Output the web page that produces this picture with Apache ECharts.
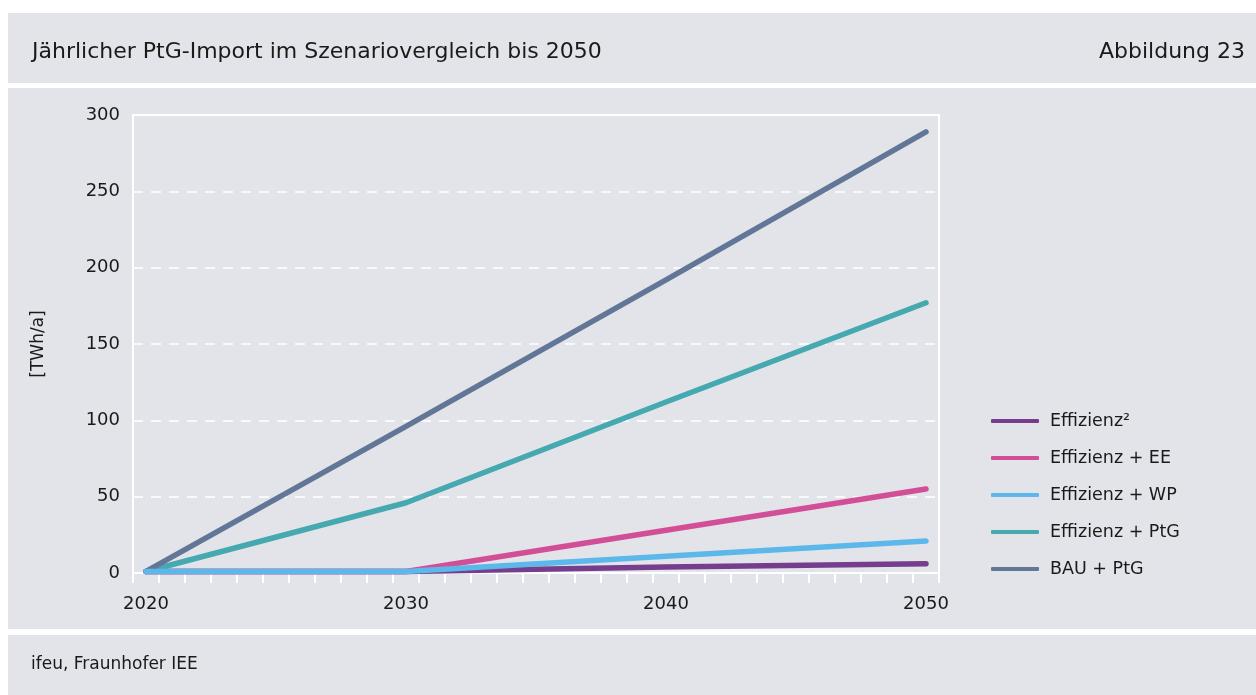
<!DOCTYPE html>
<html>
<head>
<meta charset="utf-8">
<script src="https://cdn.jsdelivr.net/npm/echarts@6/dist/echarts.min.js"></script>
<style>
  html, body { margin: 0; padding: 0; background: #fff; }
  #chart { width: 1256px; height: 695px; }
</style>
</head>
<body>
<div id="chart"></div>
<script>
// years on the category axis, values only at the decades
const years = [];
for (let y = 2020; y <= 2050; y++) years.push(String(y));
const decades = ['2020', '2030', '2040', '2050'];
const yTicks = [0, 50, 100, 150, 200, 250, 300];

const effizienz2 = [1, 1, 4, 6];
const effizienzEE = [1, 1, 28, 55];
const effizienzWP = [1, 1, 11, 21];
const effizienzPtG = [1, 46, 112, 177];
const bauPtG = [1, 96, 192, 289];

const names = ['Effizienz²', 'Effizienz + EE', 'Effizienz + WP', 'Effizienz + PtG', 'BAU + PtG'];
const colors = ['#763d8c', '#d24f97', '#5cb8ea', '#46a9b0', '#627797'];

const PANEL = '#e3e4e9';
const FONT = 'DejaVu Sans';
const INK = '#1a1a1a';

const pairs = (vals) => decades.map((d, i) => [d, vals[i]]);

function lineSeries(name, vals, color) {
  return {
    name: name,
    type: 'line',
    data: pairs(vals),
    showSymbol: false,
    symbol: 'none',
    color: color,
    lineStyle: { width: 5.5, cap: 'round', join: 'round', color: color },
    emphasis: { disabled: true },
    z: 3
  };
}

const chart = echarts.init(document.getElementById('chart'));

const option = {
  backgroundColor: '#ffffff',
  animation: false,
  textStyle: { fontFamily: FONT },
  graphic: [
    { type: 'rect', shape: { x: 8, y: 13, width: 1248, height: 70 }, style: { fill: PANEL }, z: -10 },
    { type: 'rect', shape: { x: 8, y: 88, width: 1248, height: 541 }, style: { fill: PANEL }, z: -10 },
    { type: 'rect', shape: { x: 8, y: 635, width: 1248, height: 60 }, style: { fill: PANEL }, z: -10 },
    {
      type: 'text', left: 32, top: 41,
      style: { text: 'Jährlicher PtG-Import im Szenariovergleich bis 2050', font: '22px "DejaVu Sans"', fill: INK }
    },
    {
      type: 'text', right: 11, top: 41,
      style: { text: 'Abbildung 23', font: '22px "DejaVu Sans"', fill: INK, textAlign: 'right' }
    },
    {
      type: 'text', left: 31, top: 656,
      style: { text: 'ifeu, Fraunhofer IEE', font: '17px "DejaVu Sans"', fill: INK }
    }
  ],
  grid: {
    left: 133,
    right: 317,
    top: 115,
    bottom: 122,
    show: true,
    backgroundColor: 'transparent',
    borderColor: '#ffffff',
    borderWidth: 2,
    containLabel: false
  },
  legend: {
    orient: 'vertical',
    left: 986,
    top: 407,
    data: names,
    itemWidth: 48,
    itemHeight: 4,
    itemGap: 19,
    icon: 'roundRect',
    textStyle: { fontFamily: FONT, fontSize: 17.5, color: INK, padding: [0, 0, 0, 6] },
    selectedMode: false
  },
  xAxis: {
    type: 'category',
    data: years,
    boundaryGap: true,
    axisLine: { lineStyle: { color: '#ffffff', width: 2 } },
    axisTick: { show: true, interval: 0, length: 10, lineStyle: { color: '#ffffff', width: 2 } },
    axisLabel: {
      interval: (idx, val) => decades.indexOf(val) >= 0,
      color: INK,
      fontFamily: FONT,
      fontSize: 18,
      margin: 22
    },
    splitLine: { show: false }
  },
  yAxis: {
    type: 'value',
    min: yTicks[0],
    max: yTicks[yTicks.length - 1],
    interval: 50,
    name: '[TWh/a]',
    nameLocation: 'middle',
    nameGap: 86,
    nameRotate: 90,
    nameTextStyle: { color: INK, fontFamily: FONT, fontSize: 17 },
    axisLine: { show: true, lineStyle: { color: '#ffffff', width: 2 } },
    axisTick: { show: false },
    axisLabel: { color: INK, fontFamily: FONT, fontSize: 18, margin: 13 },
    splitLine: { show: true, lineStyle: { color: '#ffffff', type: [10, 8], width: 1.5 } }
  },
  series: [
    lineSeries(names[0], effizienz2, colors[0]),
    lineSeries(names[1], effizienzEE, colors[1]),
    lineSeries(names[3], effizienzPtG, colors[3]),
    lineSeries(names[4], bauPtG, colors[4]),
    lineSeries(names[2], effizienzWP, colors[2])
  ]
};

chart.setOption(option);
</script>
</body>
</html>
